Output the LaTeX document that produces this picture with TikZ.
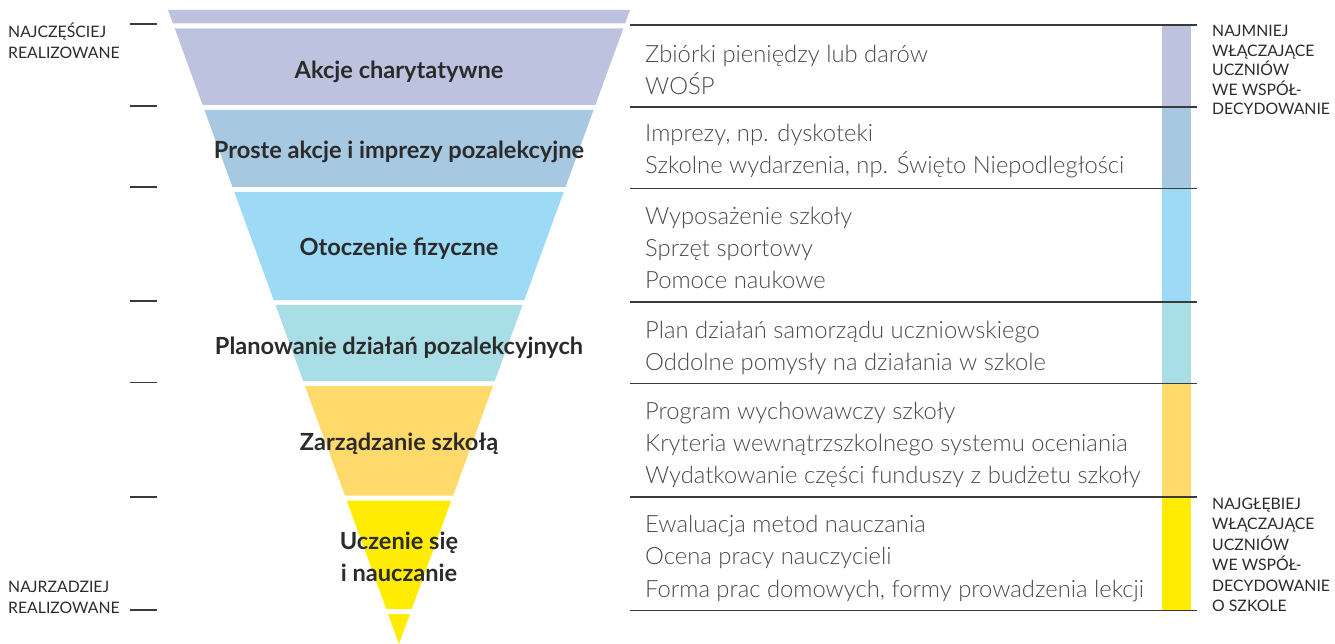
\documentclass[tikz,border=0pt]{standalone}
\usepackage{fontspec}
\setmainfont{Lato}
\newfontfamily\lightfont{Lato Light}
\usetikzlibrary{positioning}

\definecolor{bandA}{HTML}{BDC3DF}
\definecolor{bandB}{HTML}{A6C8E0}
\definecolor{bandC}{HTML}{9CDAF6}
\definecolor{bandD}{HTML}{A9DEE6}
\definecolor{bandE}{HTML}{FFDA6A}
\definecolor{bandF}{HTML}{FFEC00}
\definecolor{inkdark}{HTML}{2B2B2B}
\definecolor{inkgray}{HTML}{4A4A4A}
\definecolor{rulegray}{HTML}{3A3A3A}

\begin{document}
\begin{tikzpicture}[x=1pt,y=-1pt,
	band/.style={font=\bfseries\fontsize{23.6}{32}\selectfont,text=inkdark,align=center,inner sep=0pt},
	items/.style={font=\lightfont\fontsize{23.8}{32.3}\selectfont,text=inkgray,align=left,anchor=west,inner sep=0pt},
	side/.style={font=\fontsize{15.8}{20.5}\selectfont,text=inkdark,align=left,inner sep=0pt},
	tick/.style={rulegray,line width=1.3pt},
	rule/.style={rulegray,line width=1.5pt}]
\useasboundingbox (0,0) rectangle (1335,644);

% funnel
\foreach \ytop/\ybot/\col in {10/23.5/bandA,28.5/105/bandA,110/187/bandB,192/300/bandC,
	305/381/bandD,386/495.5/bandE,500.5/609/bandF,614/644/bandF} {
	\pgfmathsetmacro\wt{0.36435*(644-\ytop)}
	\pgfmathsetmacro\wb{0.36435*(644-\ybot)}
	\fill[\col] (399-\wt,\ytop) -- (399+\wt,\ytop) -- (399+\wb,\ybot) -- (399-\wb,\ybot) -- cycle;
}

% colour bar and rules
\foreach \ya/\yb/\col in {25/107/bandA,107/188.5/bandB,188.5/302/bandC,302/383.5/bandD,
	383.5/497/bandE,497/610.5/bandF}
	\fill[\col] (1162,\ya) rectangle (1191,\yb);
\foreach \y in {25,107,188.5,302,383.5,497,610.5}
	\draw[rule] (630,\y) -- (1197,\y);
\foreach \y in {24,106,187,301,382.5,497,610}
	\draw[tick] (130,\y) -- (157,\y);

\node[band] (akcje) at (399,71.5) {Akcje charytatywne};
\node[band] (proste) at (399,151.5) {Proste akcje i imprezy pozalekcyjne};
\node[band] (otoczenie) at (399,248.5) {Otoczenie fizyczne};
\node[band] (planowanie) at (399,347.5) {Planowanie działań pozalekcyjnych};
\node[band] (zarzadzanie) at (399,443.5) {Zarządzanie szkołą};
\node[band] (uczenie) at (399,557) {Uczenie się\\i nauczanie};

\node[items] (akcjeItems) at (645,70) {Zbiórki pieniędzy lub darów\\WOŚP};
\node[items] (prosteItems) at (645,151) {Imprezy, np. dyskoteki\\Szkolne wydarzenia, np. Święto Niepodległości};
\node[items] (otoczenieItems) at (645,248) {Wyposażenie szkoły\\Sprzęt sportowy\\Pomoce naukowe};
\node[items] (planowanieItems) at (645,348) {Plan działań samorządu uczniowskiego\\Oddolne pomysły na działania w szkole};
\node[items] (zarzadzanieItems) at (645,445) {Program wychowawczy szkoły\\Kryteria wewnątrzszkolnego systemu oceniania\\Wydatkowanie części funduszy z budżetu szkoły};
\node[items] (uczenieItems) at (645,558.5) {Ewaluacja metod nauczania\\Ocena pracy nauczycieli\\Forma prac domowych, formy prowadzenia lekcji};

\node[side,anchor=north west] (czesto) at (8,23) {NAJCZĘŚCIEJ\\REALIZOWANE};
\node[side,anchor=south west] (rzadko) at (8,613.5) {NAJRZADZIEJ\\REALIZOWANE};
\node[side,anchor=north west,font=\fontsize{15.8}{19.6}\selectfont] (najmniej) at (1212,25) {NAJMNIEJ\\WŁĄCZAJĄCE\\UCZNIÓW\\WE WSPÓŁ-\\DECYDOWANIE};
\node[side,anchor=south west] (najglebiej) at (1212,612) {NAJGŁĘBIEJ\\WŁĄCZAJĄCE\\UCZNIÓW\\WE WSPÓŁ-\\DECYDOWANIE\\O SZKOLE};

\end{tikzpicture}
\end{document}
